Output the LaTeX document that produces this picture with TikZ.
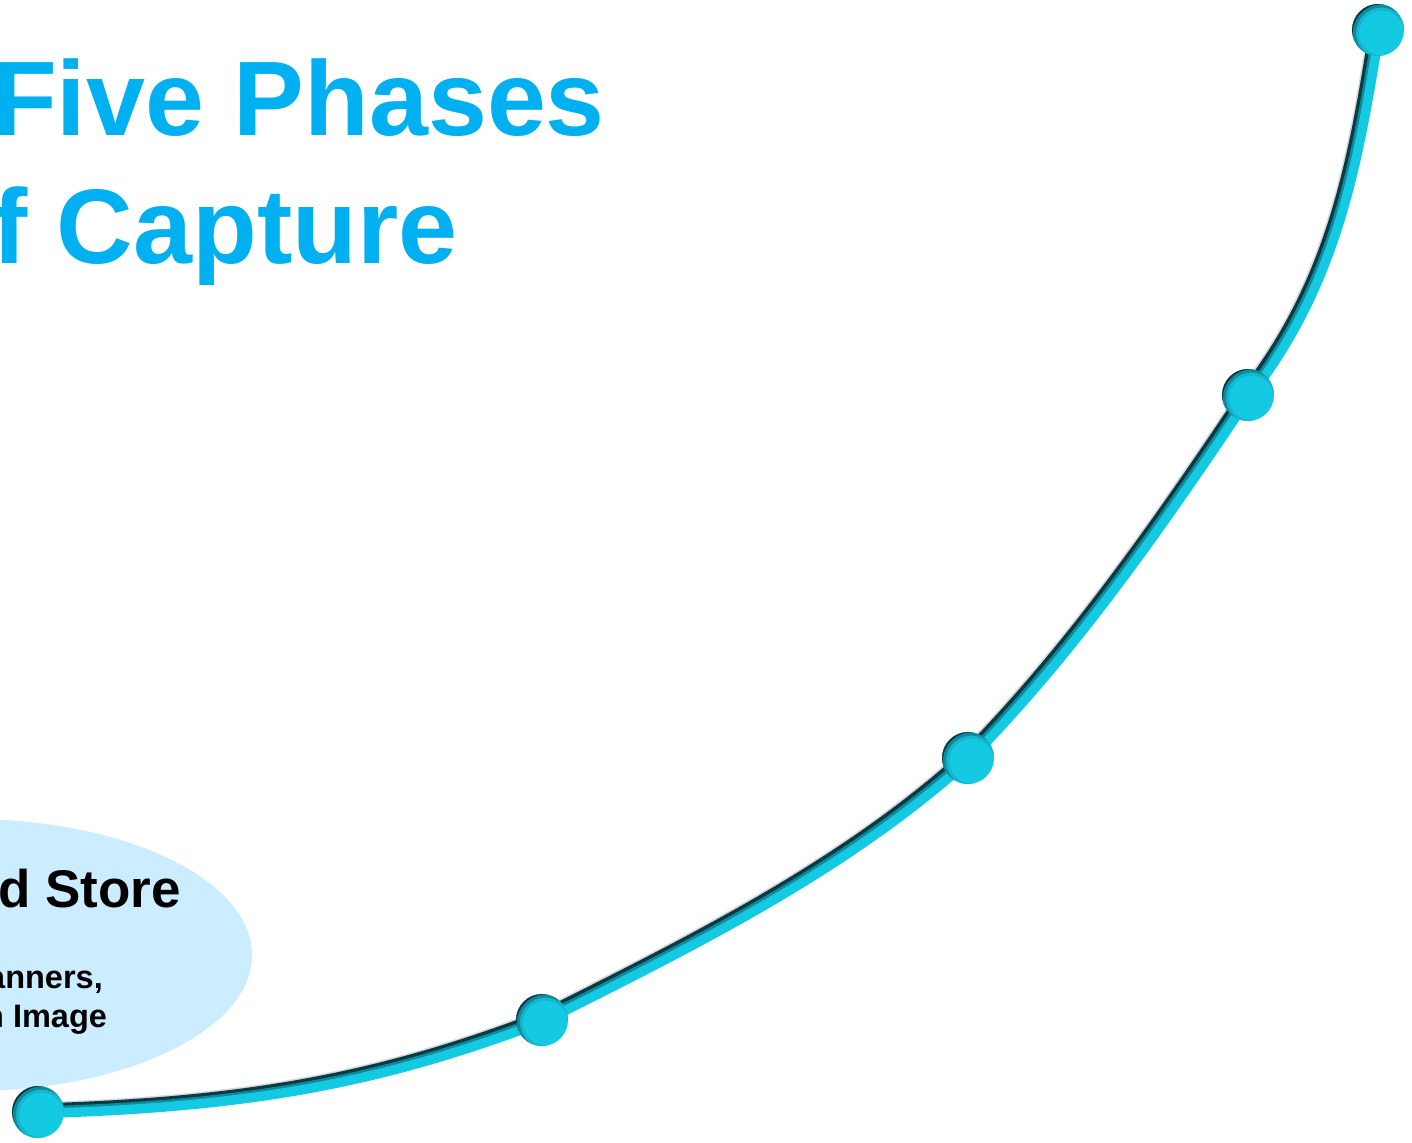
\documentclass[tikz,border=0pt]{standalone}
\usepackage{fontspec}
\setmainfont{Liberation Sans}
\usetikzlibrary{shapes.geometric}
\definecolor{titleblue}{HTML}{00B0F0}
\definecolor{ellfill}{HTML}{CCECFF}
\definecolor{tubecyan}{HTML}{14C9E2}
\definecolor{tubemid}{HTML}{0F8A9C}
\definecolor{tubedark}{HTML}{0A3A44}
\begin{document}
\begin{tikzpicture}[x=1pt,y=-1pt,
  titletext/.style={anchor=base west, inner sep=0pt, text=titleblue,
    font=\bfseries\fontsize{106}{127}\selectfont},
  headtext/.style={anchor=base west, inner sep=0pt, text=black,
    font=\bfseries\fontsize{53}{60}\selectfont},
  bodytext/.style={anchor=base west, inner sep=0pt, text=black,
    font=\bfseries\fontsize{32.5}{39}\selectfont},
  bubble/.style={ellipse, fill=ellfill, draw=none, inner sep=0pt},
  dotnode/.style={circle, inner sep=0pt, minimum size=52pt, fill=tubecyan, draw=none,
    path picture={
      \draw[tubecyan!70!tubemid, line width=3pt] ([shift={(3.5pt,-3pt)}]path picture bounding box.center) circle[radius=24pt];
      \draw[tubemid, line width=3pt] ([shift={(3.5pt,-3pt)}]path picture bounding box.center) circle[radius=27pt];
      \draw[tubedark, line width=4pt] ([shift={(3.5pt,-3pt)}]path picture bounding box.center) circle[radius=30.5pt];
    }},
  tubeshadow/.style={draw=tubedark!18, line width=15.5pt, line cap=round, transform canvas={xshift=-2.2pt, yshift=2.2pt}},
  tubedarkline/.style={draw=tubedark, line width=14pt, line cap=round, transform canvas={xshift=-1.5pt, yshift=1.5pt}},
  tubemidline/.style={draw=tubemid, line width=11pt, line cap=round},
  tubecyanline/.style={draw=tubecyan, line width=9.5pt, line cap=round, transform canvas={xshift=1.5pt, yshift=-1.5pt}}
]
\useasboundingbox (0,0) rectangle (1412,1142);
\fill[white] (0,0) rectangle (1412,1142);

% bubble
\node[bubble, minimum width=564pt, minimum height=272pt] (ell) at (-30,955) {};

% titles
\node[titletext] (t1) at (-8,136) {Five Phases};
\node[titletext] (t2) at (-8,263) {f Capture};

% bubble text
\node[headtext] (h1) at (-2,907) {d Store};
\node[bodytext] (b1) at (-13,988) {anners,};
\node[bodytext] (b2) at (-16,1027) {n Image};

% curve anchor points
\coordinate (c1) at (38,1112);
\coordinate (c2) at (542,1020);
\coordinate (c3) at (968,758);
\coordinate (c4) at (1248,395);
\coordinate (c5) at (1378,30);

\def\mytubepath{(c1) .. controls (238,1106) and (372,1085) .. (c2)
  .. controls (691,945) and (844,870) .. (c3)
  .. controls (1075,649) and (1163,522) .. (c4)
  .. controls (1338,280) and (1357,157) .. (c5)}

\draw[tubeshadow] \mytubepath;
\draw[tubedarkline] \mytubepath;
\draw[tubemidline] \mytubepath;
\draw[tubecyanline] \mytubepath;

% dots
\node[dotnode] (d1) at (c1) {};
\node[dotnode] (d2) at (c2) {};
\node[dotnode] (d3) at (c3) {};
\node[dotnode] (d4) at (c4) {};
\node[dotnode] (d5) at (c5) {};
\end{tikzpicture}
\end{document}
